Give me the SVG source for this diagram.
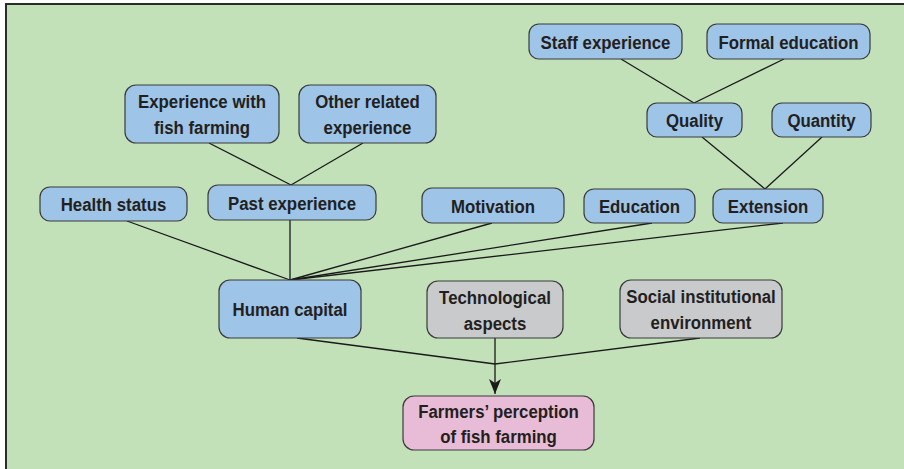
<svg xmlns="http://www.w3.org/2000/svg" width="904" height="469" viewBox="0 0 904 469">
<defs>
<marker id="arr" markerWidth="15" markerHeight="12" refX="15" refY="6" orient="auto" markerUnits="userSpaceOnUse" viewBox="0 0 15 12">
<path d="M0,0 L15,6 L0,12 L4,6 Z" fill="#1a1a1a"/>
</marker>
</defs>
<style>
.bg{fill:#c3e1b8;stroke:#2b2b2b;stroke-width:2}
.n rect{stroke:#3a3a3a;stroke-width:1.2}
.blue rect{fill:#9ec4e8}
.grey rect{fill:#c9cacc}
.pink rect{fill:#e8bcd6}
.n text{font-family:"Liberation Sans",Arial,sans-serif;font-weight:bold;font-size:19px;fill:#231f20;text-anchor:middle}
.c line{stroke:#1a1a1a;stroke-width:1.3;fill:none}
</style>
<rect x="0" y="0" width="904" height="469" fill="#ffffff"/>
<rect class="bg" x="6" y="4" width="910" height="480"/>
<g class="c" id="connectors">
<line x1="209" y1="143" x2="291" y2="185"/>
<line x1="363" y1="143" x2="291" y2="185"/>
<line x1="621" y1="59" x2="694" y2="103"/>
<line x1="784" y1="59" x2="694" y2="103"/>
<line x1="702" y1="137" x2="765" y2="189"/>
<line x1="822" y1="137" x2="765" y2="189"/>
<line x1="127" y1="221" x2="290" y2="280"/>
<line x1="290" y1="220" x2="290" y2="280"/>
<line x1="492" y1="223" x2="290" y2="280"/>
<line x1="652" y1="223" x2="290" y2="280"/>
<line x1="783" y1="223" x2="290" y2="280"/>
<line x1="297" y1="338" x2="495" y2="364"/>
<line x1="700" y1="338" x2="495" y2="364"/>
<line x1="495" y1="338" x2="495" y2="394" marker-end="url(#arr)"/>
</g>
<g id="exp-fish" class="n blue"><rect x="125" y="85" width="154" height="58" rx="11"/><text transform="translate(202 107.5) scale(0.885 1)">Experience with</text><text transform="translate(202 133.5) scale(0.885 1)">fish farming</text></g>
<g id="other-exp" class="n blue"><rect x="299" y="85" width="137" height="58" rx="11"/><text transform="translate(367.5 107.5) scale(0.885 1)">Other related</text><text transform="translate(367.5 133.5) scale(0.885 1)">experience</text></g>
<g id="staff-exp" class="n blue"><rect x="529" y="24" width="153" height="35" rx="10"/><text transform="translate(605.5 48.5) scale(0.885 1)">Staff experience</text></g>
<g id="formal-edu" class="n blue"><rect x="707" y="24" width="163" height="35" rx="10"/><text transform="translate(788.5 48.5) scale(0.885 1)">Formal education</text></g>
<g id="quality" class="n blue"><rect x="647" y="103" width="95" height="34" rx="10"/><text transform="translate(694.5 127) scale(0.885 1)">Quality</text></g>
<g id="quantity" class="n blue"><rect x="772" y="103" width="99" height="34" rx="10"/><text transform="translate(821.5 127) scale(0.885 1)">Quantity</text></g>
<g id="health" class="n blue"><rect x="40" y="187" width="147" height="34" rx="10"/><text transform="translate(113.5 211) scale(0.885 1)">Health status</text></g>
<g id="past-exp" class="n blue"><rect x="208" y="185" width="168" height="35" rx="10"/><text transform="translate(292 210) scale(0.885 1)">Past experience</text></g>
<g id="motivation" class="n blue"><rect x="422" y="188" width="142" height="35" rx="10"/><text transform="translate(493 212.5) scale(0.885 1)">Motivation</text></g>
<g id="education" class="n blue"><rect x="584" y="189" width="111" height="34" rx="10"/><text transform="translate(639.5 213) scale(0.885 1)">Education</text></g>
<g id="extension" class="n blue"><rect x="713" y="189" width="110" height="34" rx="10"/><text transform="translate(768 213) scale(0.885 1)">Extension</text></g>
<g id="human-capital" class="n blue"><rect x="219" y="280" width="142" height="58" rx="11"/><text transform="translate(290 316) scale(0.885 1)">Human capital</text></g>
<g id="tech" class="n grey"><rect x="427" y="281" width="136" height="57" rx="11"/><text transform="translate(495 303.5) scale(0.885 1)">Technological</text><text transform="translate(495 329.5) scale(0.885 1)">aspects</text></g>
<g id="social" class="n grey"><rect x="620" y="280" width="162" height="58" rx="11"/><text transform="translate(701 303) scale(0.885 1)">Social institutional</text><text transform="translate(701 329) scale(0.885 1)">environment</text></g>
<g id="farmers" class="n pink"><rect x="403" y="396" width="191" height="54" rx="11"/><text transform="translate(498.5 417.5) scale(0.885 1)">Farmers’ perception</text><text transform="translate(498.5 443) scale(0.885 1)">of fish farming</text></g>
</svg>
